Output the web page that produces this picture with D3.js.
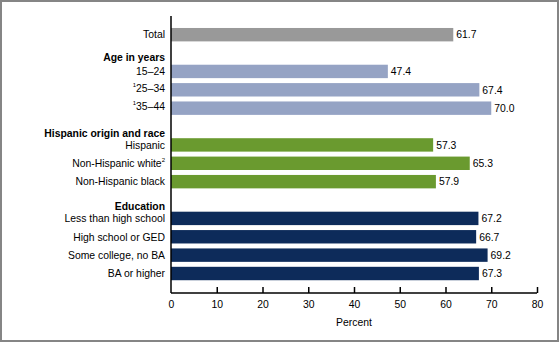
<!DOCTYPE html>
<html><head><meta charset="utf-8">
<script src="https://cdn.jsdelivr.net/npm/d3@7"></script>
<style>
html,body{margin:0;padding:0;background:#fff;}
svg{display:block;font-family:"Liberation Sans",Arial,sans-serif;}
</style></head>
<body>
<svg id="chart" width="560" height="343"></svg>
<script>
// Rows (headers included as rows with no value)
const rowKeys = ["Total","h_age","15–24","25–34","35–44","h_hisp","Hispanic","Non-Hispanic white","Non-Hispanic black","h_edu","Less than high school","High school or GED","Some college, no BA","BA or higher"];
const headerLabels = {h_age:"Age in years", h_hisp:"Hispanic origin and race", h_edu:"Education"};
const categories = ["Total","15–24","25–34","35–44","Hispanic","Non-Hispanic white","Non-Hispanic black","Less than high school","High school or GED","Some college, no BA","BA or higher"];
const values = [61.7,47.4,67.4,70.0,57.3,65.3,57.9,67.2,66.7,69.2,67.3];
const groups = ["total","age","age","age","race","race","race","edu","edu","edu","edu"];
const prefixes = ["","","1","1","","","","","","",""];
const suffixes = ["","","","","","2","","","","",""];
const tickValues = [0,10,20,30,40,50,60,70,80];
const groupColors = {total:"#999999", age:"#95a3c4", race:"#6a9a2f", edu:"#0d2b5a"};

const FS = 10.4;
const svg = d3.select("#chart");
// frame
svg.append("rect").attr("x",1).attr("y",1).attr("width",557).attr("height",340)
  .attr("fill","none").attr("stroke","#858585").attr("stroke-width",2);

const x = d3.scaleLinear().domain([0,80]).range([171,537]);
const y = d3.scaleBand().domain(rowKeys).range([25.5,282.7]).paddingInner(0.27).paddingOuter(0.135);

const data = categories.map((c,i)=>({c, v:values[i], g:groups[i], p:prefixes[i], s:suffixes[i]}));

// bars
svg.selectAll("rect.bar").data(data).join("rect").attr("class","bar")
  .attr("x",x(0)).attr("y",d=>y(d.c)).attr("width",d=>x(d.v)-x(0)).attr("height",y.bandwidth())
  .attr("fill",d=>groupColors[d.g]);

// value labels
svg.selectAll("text.val").data(data).join("text").attr("class","val")
  .attr("x",d=>x(d.v)+3).attr("y",d=>y(d.c)+y.bandwidth()/2).attr("dy","0.36em")
  .attr("font-size",FS).attr("fill","#000").text(d=>d.v.toFixed(1));

// category labels
const lab = svg.selectAll("text.cat").data(data).join("text").attr("class","cat")
  .attr("x",165).attr("y",d=>y(d.c)+y.bandwidth()/2).attr("dy","0.36em")
  .attr("text-anchor","end").attr("font-size",FS).attr("fill","#000");
lab.each(function(d){
  const t = d3.select(this);
  if(d.p) t.append("tspan").attr("font-size",6).attr("dy","-0.5em").text(d.p);
  if(d.p) t.append("tspan").attr("dy","0.5em").text(d.c);
  else t.append("tspan").text(d.c);
  if(d.s) t.append("tspan").attr("font-size",6).attr("dy","-0.8em").text(d.s);
});

// headers
const headerOffset = {h_age:4, h_hisp:6.5, h_edu:6.5};
svg.selectAll("text.hdr").data(Object.keys(headerLabels)).join("text").attr("class","hdr")
  .attr("x",165).attr("y",k=>y(k)+y.bandwidth()/2+headerOffset[k]).attr("dy","0.36em")
  .attr("text-anchor","end").attr("font-size",FS).attr("font-weight","bold").text(k=>headerLabels[k]);

// x axis
const axisY = 293;
const xAxis = d3.axisBottom(x).tickValues(tickValues).tickSize(-6).tickPadding(8).tickFormat(d3.format("d"));
const gx = svg.append("g").attr("transform",`translate(0,${axisY})`).call(xAxis);
gx.select(".domain").attr("d",`M${x(0)},0H${x(80)}`).attr("stroke","#000").attr("stroke-width",1.5);
gx.selectAll(".tick line").attr("stroke","#000").attr("stroke-width",1.5);
gx.selectAll(".tick text").attr("font-size",FS).attr("font-family","Liberation Sans, Arial, sans-serif").attr("fill","#000");
gx.select(".tick:first-of-type line").remove();

// y axis line
svg.append("line").attr("x1",x(0)).attr("x2",x(0)).attr("y1",16).attr("y2",axisY)
  .attr("stroke","#000").attr("stroke-width",1.5);

// axis title
svg.append("text").attr("x",(x(0)+x(80))/2).attr("y",326).attr("text-anchor","middle")
  .attr("font-size",FS).text("Percent");
</script>
</body></html>
